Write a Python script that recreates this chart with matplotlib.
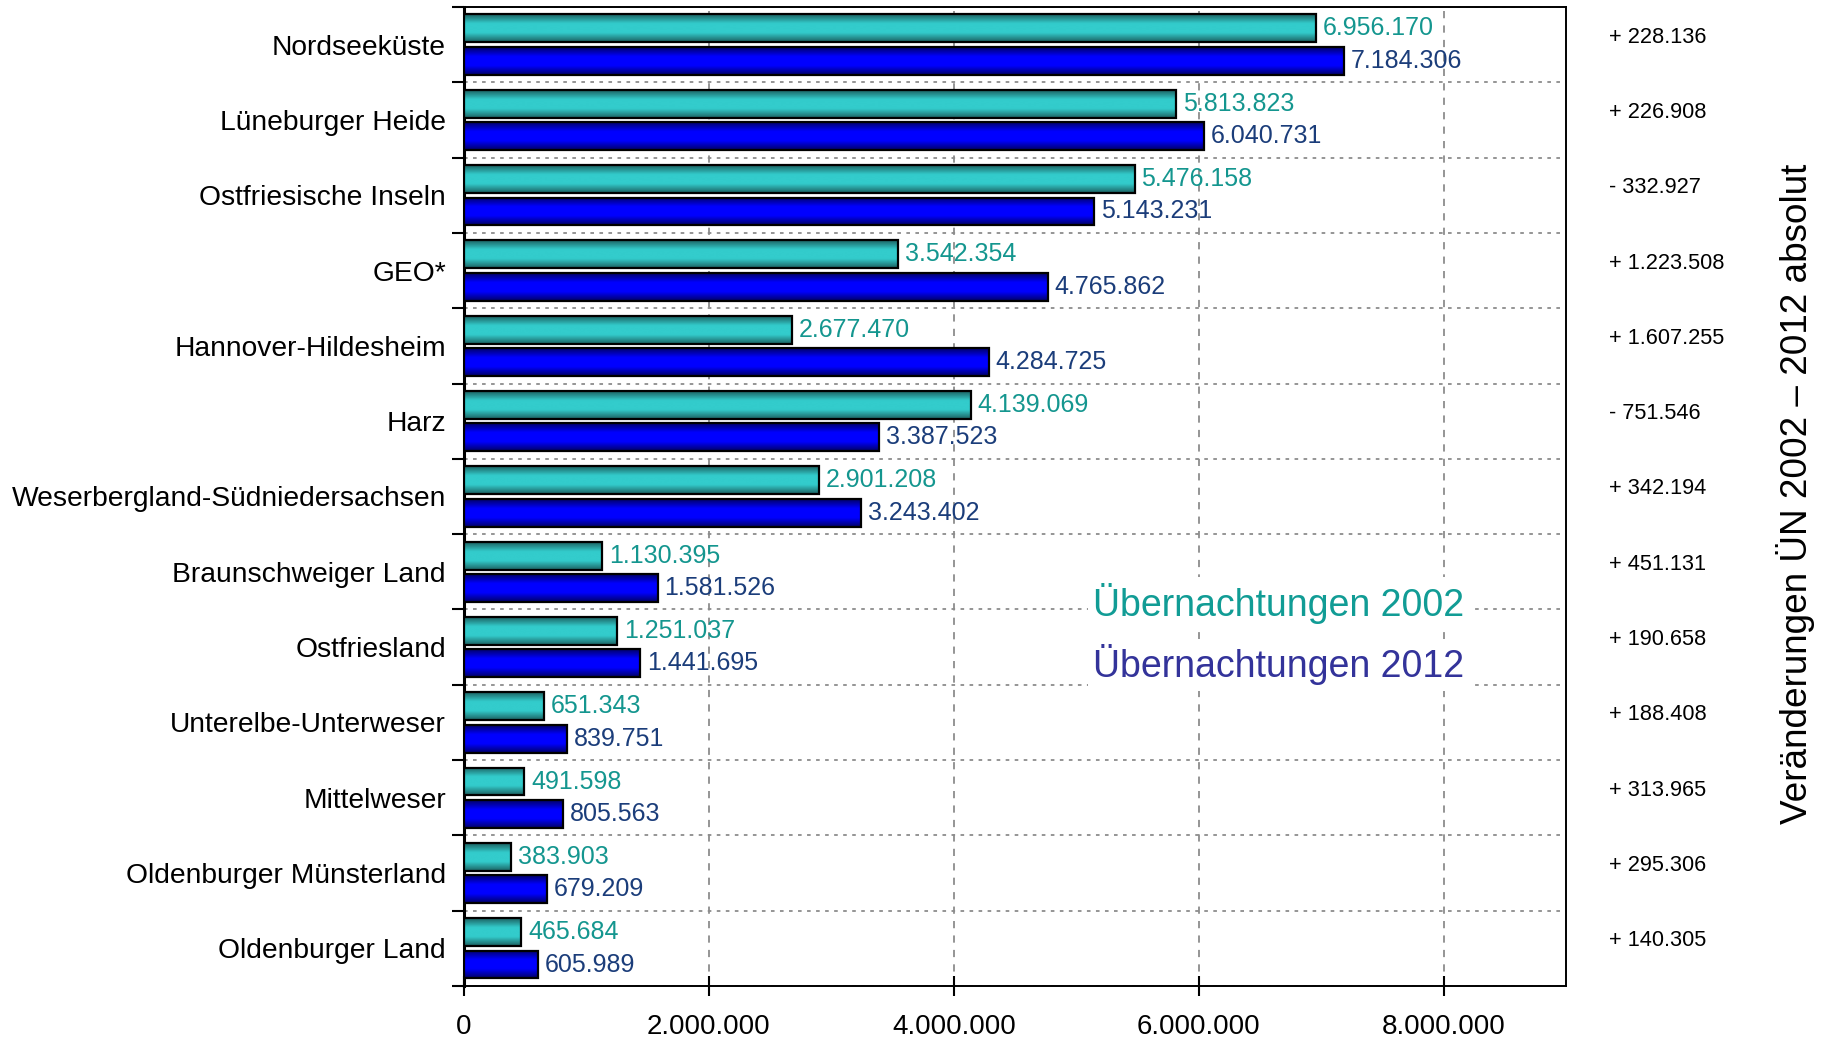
import matplotlib.pyplot as plt
import numpy as np
from matplotlib.colors import LinearSegmentedColormap
from matplotlib.ticker import FuncFormatter, FixedLocator
from matplotlib.transforms import blended_transform_factory

plt.rcParams['font.family'] = ['Liberation Sans', 'DejaVu Sans']

# Data
categories = ["Nordseeküste", "Lüneburger Heide", "Ostfriesische Inseln", "GEO*",
              "Hannover-Hildesheim", "Harz", "Weserbergland-Südniedersachsen",
              "Braunschweiger Land", "Ostfriesland", "Unterelbe-Unterweser",
              "Mittelweser", "Oldenburger Münsterland", "Oldenburger Land"]
ub_2002 = [6956170, 5813823, 5476158, 3542354, 2677470, 4139069, 2901208,
           1130395, 1251037, 651343, 491598, 383903, 465684]
ub_2012 = [7184306, 6040731, 5143231, 4765862, 4284725, 3387523, 3243402,
           1581526, 1441695, 839751, 805563, 679209, 605989]
x_ticks = [0, 2000000, 4000000, 6000000, 8000000]


def de_num(v):
    return f"{v:,}".replace(",", ".")


fig = plt.figure(figsize=(18.28, 10.40), dpi=100)
ax = fig.add_axes([0.2538, 0.0519, 0.6029, 0.9414])

y = np.arange(len(categories))
off = 0.215
h = 0.37

teal_cmap = LinearSegmentedColormap.from_list("teal", ["#1c6262", "#33cccc", "#33cccc", "#1c6262"])
blue_cmap = LinearSegmentedColormap.from_list("blue", ["#000068", "#0000ff", "#0000ff", "#000068"])
grad = np.linspace(0, 1, 64).reshape(-1, 1)

bars_a = ax.barh(y - off, ub_2002, height=h, facecolor="none", edgecolor="black", linewidth=1.6, zorder=4)
bars_b = ax.barh(y + off, ub_2012, height=h, facecolor="none", edgecolor="black", linewidth=1.6, zorder=4)

# gradient fill clipped to each bar
for bars, cmap in [(bars_a, teal_cmap), (bars_b, blue_cmap)]:
    for r in bars:
        x0, y0, w, hh = r.get_x(), r.get_y(), r.get_width(), r.get_height()
        im = ax.imshow(grad, extent=(x0, x0 + w, y0 + hh, y0), aspect="auto",
                       cmap=cmap, zorder=3, interpolation="bicubic")
        im.set_clip_path(r)

# value labels
for yy, v in zip(y - off, ub_2002):
    ax.annotate(de_num(v), (v, yy), xytext=(5, 0), textcoords="offset points",
                va="center", ha="left", fontsize=18, color="#14968f", zorder=6)
for yy, v in zip(y + off, ub_2012):
    ax.annotate(de_num(v), (v, yy), xytext=(5, 0), textcoords="offset points",
                va="center", ha="left", fontsize=18, color="#1b3d7a", zorder=6)

# change column on the right
trans = blended_transform_factory(ax.transAxes, ax.transData)
for yy, a, b in zip(y, ub_2002, ub_2012):
    d = b - a
    sign = "+" if d >= 0 else "-"
    ax.text(1.039, yy - 0.1, f"{sign} {de_num(abs(d))}", transform=trans,
            ha="left", va="center", fontsize=15.7, color="black")

ax.set_xlim(0, 9000000)
ax.set_ylim(len(categories) - 0.5, -0.5)

ax.set_xticks(x_ticks)
ax.xaxis.set_major_formatter(FuncFormatter(lambda v, p: de_num(int(v))))
ax.tick_params(axis="x", direction="inout", length=14, width=1.5, labelsize=20, pad=13)

ax.set_yticks(y)
ax.set_yticklabels(categories)
ax.yaxis.set_minor_locator(FixedLocator(np.arange(-0.5, len(categories), 1.0)))
ax.tick_params(axis="y", which="major", length=0, labelsize=20.3, pad=13)
ax.tick_params(axis="y", which="minor", direction="out", length=9, width=1.5)

ax.grid(True, axis="x", which="major", linestyle=(0, (4, 4)), color="#8c8c8c", linewidth=1.3, zorder=1)
ax.grid(True, axis="y", which="minor", linestyle=(0, (2, 3)), color="#8c8c8c", linewidth=1.3, zorder=1)
ax.set_axisbelow(True)

for s in ["top", "right", "bottom"]:
    ax.spines[s].set_linewidth(1.4)
ax.spines["left"].set_linewidth(2.2)

# legend-like texts
ax.text(0.571, 0.391, "Übernachtungen 2002", transform=ax.transAxes, fontsize=27,
        color="#119c95", va="center", ha="left", zorder=5,
        bbox=dict(facecolor="white", edgecolor="none", pad=4))
ax.text(0.571, 0.328, "Übernachtungen 2012", transform=ax.transAxes, fontsize=27,
        color="#33339a", va="center", ha="left", zorder=5,
        bbox=dict(facecolor="white", edgecolor="none", pad=4))

fig.text(0.982, 0.525, "Veränderungen ÜN 2002 – 2012 absolut", rotation=90,
         fontsize=26.6, ha="center", va="center", color="black")

fig.savefig("out.png", dpi=100)
